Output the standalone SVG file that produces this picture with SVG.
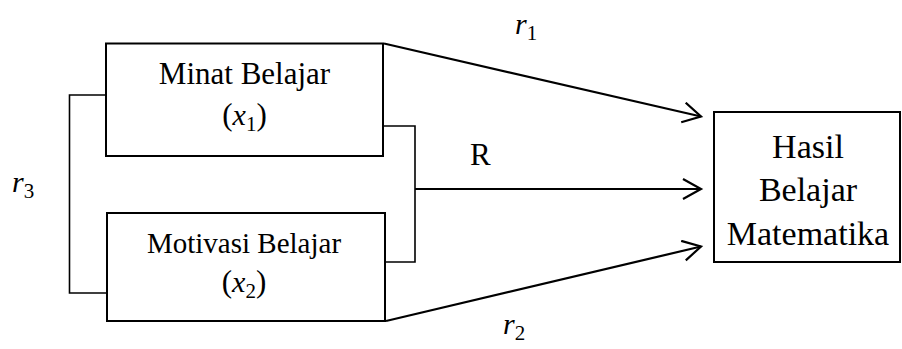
<svg xmlns="http://www.w3.org/2000/svg" width="902" height="349" viewBox="0 0 902 349">
<style>
.box{fill:#fff;stroke:#000;stroke-width:2}
.ln{fill:none;stroke:#000;stroke-width:1.6}
.ar{fill:none;stroke:#000;stroke-width:2.2}
.t{font-family:"Liberation Serif","Times New Roman",serif;font-size:31px;fill:#000}
.m{font-family:"Liberation Serif","Times New Roman",serif;font-style:italic;font-size:30px;fill:#000}
.s{font-style:normal;font-size:21px}
.h{font-size:34px}
</style>
<defs>
<marker id="ah" markerUnits="userSpaceOnUse" markerWidth="24" markerHeight="26" refX="19" refY="11" orient="auto">
<path d="M1,1 L19,11 L1,21" fill="none" stroke="#000" stroke-width="2.2"/>
</marker>
</defs>
<g id="connectors">
<polyline class="ln" points="106,95 69.5,95 69.5,293 107,293"/>
<polyline class="ln" points="383,126 415,126 415,262 385,262"/>
<line class="ar" x1="415" y1="189" x2="701" y2="189" marker-end="url(#ah)"/>
<line class="ar" x1="384" y1="43.5" x2="701" y2="116.5" marker-end="url(#ah)"/>
<line class="ar" x1="386" y1="321" x2="701" y2="246.5" marker-end="url(#ah)"/>
</g>
<g id="node-minat">
<rect class="box" x="106" y="43.5" width="277" height="112.5"/>
<text class="t" x="244.5" y="84" text-anchor="middle">Minat Belajar</text>
<text class="t" x="244.5" y="125" text-anchor="middle">(<tspan class="m">x</tspan><tspan class="m s" dy="6">1</tspan><tspan dy="-6">)</tspan></text>
</g>
<g id="node-motivasi">
<rect class="box" x="107" y="213" width="278" height="108"/>
<text class="t" x="244" y="253" text-anchor="middle" style="font-size:29px">Motivasi Belajar</text>
<text class="t" x="244" y="292" text-anchor="middle">(<tspan class="m">x</tspan><tspan class="m s" dy="6">2</tspan><tspan dy="-6">)</tspan></text>
</g>
<g id="node-hasil">
<rect class="box" x="714" y="112" width="186" height="150"/>
<text class="t h" x="808" y="158" text-anchor="middle">Hasil</text>
<text class="t h" x="808" y="201" text-anchor="middle">Belajar</text>
<text class="t h" x="808" y="245" text-anchor="middle">Matematika</text>
</g>
<g id="labels">
<text class="m" x="515" y="34">r<tspan class="s" dy="6">1</tspan></text>
<text class="t" x="470" y="165">R</text>
<text class="m" x="503" y="334">r<tspan class="s" dy="6">2</tspan></text>
<text class="m" x="12" y="192">r<tspan class="s" dy="6">3</tspan></text>
</g>
</svg>
